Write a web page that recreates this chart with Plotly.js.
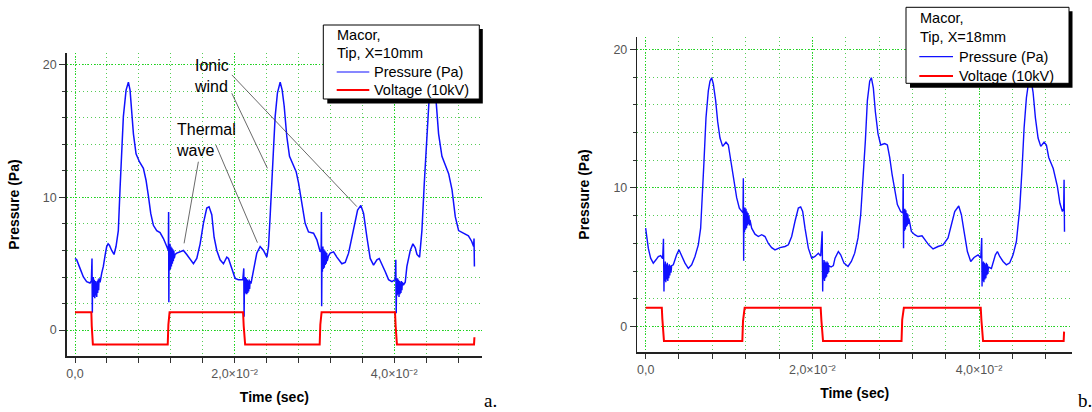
<!DOCTYPE html>
<html>
<head>
<meta charset="utf-8">
<script src="https://cdn.plot.ly/plotly-3.0.1.min.js"></script>
<style>html,body{margin:0;padding:0;background:#fff;}#chart{width:1092px;height:412px;}</style>
</head>
<body>
<div id="chart"></div>
<script>
// ---------- Panel a: Macor, Tip, X=10mm ----------
const timeA = [0,0.00021,0.00063,0.00105,0.00146,0.00188,0.00205,0.00213,0.00217,0.0022,
0.00225,0.0023,0.00236,0.00242,0.00248,0.00254,0.0026,0.00266,0.00272,0.00278,0.00284,0.0029,0.00296,0.00302,
0.00314,0.00335,0.00355,0.00376,0.00397,0.00415,0.00431,0.0046,0.00489,0.00514,0.00543,0.00564,0.00585,0.00606,
0.0064,0.00669,0.0069,0.00711,0.00732,0.00765,0.00807,0.00857,0.0089,0.0092,0.00949,0.00982,0.01024,0.01066,
0.01108,0.0115,0.0117,0.01173,0.01176,0.01179,
0.01185,0.0119,0.01196,0.01202,0.01208,0.01214,0.0122,0.01226,0.01232,0.01238,0.01244,
0.01254,0.01275,0.01317,0.01359,0.014,0.01442,0.01484,0.01526,0.01568,0.01609,0.01651,0.0168,0.01714,0.01743,
0.01777,0.01818,0.0186,0.01902,0.01923,0.01965,0.02006,0.02048,0.02103,0.02115,0.02119,0.02123,
0.02128,0.02134,0.0214,0.02146,0.02152,0.02158,0.02164,0.0217,0.02176,0.02182,0.02188,0.02194,
0.02205,0.02215,0.02236,0.02278,0.0232,0.02362,0.02404,0.02425,0.02445,0.02466,0.02487,0.02508,0.02537,0.02571,
0.02596,0.02621,0.02654,0.02688,0.02738,0.02771,0.02801,0.02843,0.02884,0.02926,0.02989,0.03031,0.03072,
0.03085,0.03088,0.03091,0.03095,
0.031,0.03106,0.03112,0.03118,0.03124,0.0313,0.03136,0.03142,0.03148,0.03154,0.0316,
0.03177,0.03198,0.0324,0.03281,0.03344,0.03386,0.03428,0.0349,0.03541,0.03582,0.03616,0.03658,0.03699,0.03741,
0.03783,0.03812,0.03846,0.03888,0.03929,0.03971,0.04013,0.0402,0.04025,0.0403,
0.04036,0.04042,0.04048,0.04054,0.0406,0.04066,0.04072,0.04078,0.04084,0.0409,0.04096,0.04102,
0.04115,0.04138,0.04159,0.04201,0.04234,0.04264,0.04285,0.04318,0.04347,0.04377,0.0441,0.04439,0.04494,0.04527,
0.04556,0.04598,0.0464,0.04682,0.04724,0.04765,0.04807,0.04849,0.04878,0.0493,0.0497,0.04995,0.05,0.05005];
const pressureA = [5.4,5.3,4.65,4.0,3.65,3.55,3.7,5.4,1.3,3.8,
2.7,4.0,2.5,3.8,2.4,3.7,2.6,3.6,2.5,3.7,2.8,3.8,3.0,3.9,
3.6,4.3,4.8,5.6,6.3,6.5,6.4,6.0,5.7,6.3,7.5,10.6,13.6,16.1,
18.1,18.7,18.1,16.4,14.8,13.3,12.7,12.2,11.3,10.1,8.8,7.9,7.5,7.35,
6.9,6.3,6.0,8.9,2.1,6.5,
4.5,6.5,4.6,6.3,4.8,6.2,5.0,6.1,5.2,6.0,5.4,
5.7,5.8,5.9,6.0,5.7,5.3,5.0,5.4,6.5,8.05,9.2,9.3,8.7,7.0,
6.0,5.3,5.0,5.5,5.4,4.65,3.9,3.8,3.8,4.65,1.0,3.6,
2.7,4.0,2.8,3.9,2.7,3.8,2.8,3.7,2.9,3.8,3.1,3.7,
3.5,3.8,4.5,5.8,6.3,6.0,5.5,6.3,8.55,11.6,13.6,16.1,17.9,18.7,
18.1,16.9,14.6,13.1,12.45,11.95,11.1,9.6,8.05,7.4,7.3,6.8,5.9,
6.0,8.9,1.8,6.0,
4.4,6.3,4.6,6.1,4.7,6.0,4.9,5.9,5.0,5.8,5.2,
5.6,5.8,5.9,5.5,5.0,5.1,5.8,7.5,9.05,9.4,8.8,7.0,5.4,4.9,
5.3,5.4,5.0,4.4,3.8,3.65,3.8,5.3,1.26,3.9,
2.6,3.9,2.7,3.8,2.5,3.7,2.7,3.6,2.8,3.7,3.0,3.6,
3.4,3.6,4.8,6.0,6.5,6.2,5.7,5.5,7.5,11.1,14.8,17.6,18.7,17.1,
14.8,13.1,12.45,11.8,10.6,8.55,7.5,7.35,7.3,7.1,6.7,6.3,6.9,4.8];
const voltTimeA = [0,0.00205,0.0021,0.00224,0.01162,0.0117,0.01185,0.02106,0.02114,0.02132,0.03066,0.03074,0.0309,0.0401,0.04018,0.04034,0.05,0.05005];
const voltageA  = [1.35,1.35,0.3,-1.1,-1.1,0.4,1.35,1.35,0.3,-1.1,-1.1,0.4,1.35,1.35,0.3,-1.1,-1.1,-0.55];

// ---------- Panel b: Macor, Tip, X=18mm ----------
const timeB = [0,0.00012,0.00032,0.0006,0.00092,0.00124,0.00152,0.0018,0.00204,0.00214,0.0022,0.00224,
0.0023,0.00236,0.00242,0.00248,0.00254,0.0026,0.00266,0.00272,0.00278,0.00284,0.0029,0.00296,0.00304,0.00312,
0.00332,0.00352,0.00372,0.004,0.00432,0.00472,0.00512,0.00552,0.00592,0.00632,0.0066,0.00684,0.007,0.00724,
0.00752,0.00772,0.00792,0.00812,0.0084,0.00864,0.00892,0.00924,0.00964,0.00992,0.01012,0.01032,0.0106,0.01092,
0.01124,0.01152,0.01168,0.01172,0.01176,0.0118,
0.01186,0.01192,0.01198,0.01204,0.0121,0.01216,0.01222,0.01228,0.01234,0.0124,0.01246,0.01252,
0.01272,0.01312,0.01352,0.01392,0.01432,0.01472,0.01512,0.01552,0.01612,0.01672,0.01712,0.01752,0.01792,0.01832,
0.0186,0.01884,0.01912,0.01952,0.01992,0.02032,0.02072,0.021,0.02118,0.02124,0.02128,
0.02134,0.0214,0.02146,0.02152,0.02158,0.02164,0.0217,0.02176,0.02182,0.02188,0.02194,0.022,
0.02225,0.02252,0.02272,0.02312,0.0234,0.0238,0.02428,0.02468,0.02508,0.02548,0.0258,0.02608,0.02636,0.0266,
0.02688,0.02708,0.02732,0.02756,0.02788,0.0282,0.02868,0.029,0.02928,0.02956,0.02988,0.0302,0.0306,
0.03086,0.0309,0.03094,0.03098,
0.03104,0.0311,0.03116,0.03122,0.03128,0.03134,0.0314,0.03146,0.03152,0.03158,
0.03168,0.03188,0.03228,0.03268,0.03316,0.03356,0.03396,0.03448,0.03508,0.03568,0.03628,0.03668,0.03708,0.03756,
0.03788,0.0382,0.0386,0.039,0.0394,0.03988,0.0402,0.04032,0.04036,0.0404,
0.04046,0.04052,0.04058,0.04064,0.0407,0.04076,0.04082,0.04088,0.04094,0.041,0.04106,0.04112,
0.04148,0.04168,0.04196,0.0422,0.04248,0.04288,0.04328,0.04368,0.04408,0.04448,0.04488,0.04516,0.0454,0.04568,
0.04596,0.0462,0.04648,0.04676,0.04708,0.0474,0.0478,0.04808,0.04836,0.0489,0.0494,0.0497,0.05,0.05015,0.0502,0.05025];
const pressureB = [7.1,6.6,5.66,4.94,4.58,4.82,5.06,5.13,4.9,6.34,2.53,4.5,
3.3,4.7,3.2,4.5,3.4,4.6,3.3,4.4,3.5,4.5,3.7,4.4,3.9,4.4,
4.46,4.9,5.18,5.54,5.06,4.58,4.2,4.46,5.06,5.9,7.1,9.5,11.9,15.06,
17.0,17.7,17.95,17.5,16.3,14.8,13.6,13.0,13.3,13.1,12.4,11.7,10.5,9.3,
8.55,8.3,8.2,10.7,4.75,8.6,
6.8,8.6,7.0,8.5,7.1,8.3,7.3,8.2,7.4,8.0,7.3,7.7,
7.1,6.67,6.5,6.63,6.5,6.0,5.7,5.54,5.7,5.78,5.9,6.5,7.6,8.55,
8.63,8.3,7.1,5.66,4.94,5.06,5.3,5.1,6.87,2.53,4.6,
3.4,4.8,3.3,4.7,3.5,4.6,3.6,4.7,3.8,4.6,3.9,4.4,
4.3,4.4,4.94,5.42,5.18,4.58,4.34,4.7,5.3,6.4,8.07,10.5,13.4,16.3,
17.7,17.95,17.2,15.5,13.9,13.1,13.2,13.1,12.2,11.0,9.76,8.8,8.3,
8.2,11.0,5.66,8.5,
6.9,8.5,7.0,8.4,7.2,8.2,7.3,8.1,7.4,7.8,
7.5,6.87,6.63,6.5,6.55,6.2,5.9,5.6,5.78,5.9,6.4,7.35,8.3,8.7,
8.07,6.87,5.42,4.7,4.99,5.18,4.95,6.39,2.9,4.6,
3.3,4.7,3.2,4.6,3.4,4.5,3.5,4.6,3.7,4.5,3.8,4.3,
4.2,4.7,5.18,5.42,5.06,4.7,4.46,4.6,5.18,6.14,8.55,11.4,14.3,16.5,
17.7,17.95,16.9,15.06,13.6,13.0,13.3,13.1,12.2,11.4,10.1,8.9,8.3,8.5,10.6,6.85];
const voltTimeB = [0,0.00194,0.002,0.0022,0.0116,0.01168,0.01188,0.021,0.02108,0.02128,0.0307,0.03078,0.03098,0.0402,0.04028,0.04048,0.05015,0.0502];
const voltageB  = [1.37,1.37,0.6,-1.04,-1.04,0.4,1.37,1.37,0.5,-1.04,-1.04,0.5,1.37,1.37,0.5,-1.04,-1.04,-0.36];

// ---------- tick labels & legend texts ----------
const xTickVals = [0, 0.02, 0.04];
const xTickText = ['0,0', '2,0\u00d710\u207b\u00b2', '4,0\u00d710\u207b\u00b2'];
const yTickVals = [0, 10, 20];
const yTickText = ['0', '10', '20'];
const seriesNames = ['Pressure (Pa)', 'Voltage (10kV)'];
const legendTitles = ['Macor,', 'Tip, X=10mm', 'Macor,', 'Tip, X=18mm'];

const W = 1092, H = 412;
const px = v => v / W;
const py = v => 1 - v / H;
const FONT = 'Arial, "Liberation Sans", sans-serif';
const BLUE = '#1010ff', RED = '#ff0000';

const traces = [
  {x: timeA, y: pressureA, type: 'scatter', mode: 'lines', name: seriesNames[0],
   line: {color: BLUE, width: 1.5}, xaxis: 'x', yaxis: 'y'},
  {x: voltTimeA, y: voltageA, type: 'scatter', mode: 'lines', name: seriesNames[1],
   line: {color: RED, width: 2}, xaxis: 'x', yaxis: 'y'},
  {x: timeB, y: pressureB, type: 'scatter', mode: 'lines', name: seriesNames[0],
   line: {color: BLUE, width: 1.4}, xaxis: 'x2', yaxis: 'y2'},
  {x: voltTimeB, y: voltageB, type: 'scatter', mode: 'lines', name: seriesNames[1],
   line: {color: RED, width: 2}, xaxis: 'x2', yaxis: 'y2'}
];

const MAJ_GRID = {showgrid: true, gridcolor: '#19d819', griddash: '1px,2px', gridwidth: 1};
const MIN_GRID = {showgrid: true, gridcolor: '#55cc55', griddash: '1px,3px', gridwidth: 1};

function xAxis(domain, range) {
  return Object.assign({
    domain: domain, range: range, tickmode: 'array', tickvals: xTickVals, ticktext: xTickText,
    ticks: 'outside', ticklen: 5, tickwidth: 1, tickcolor: '#333',
    showline: true, linecolor: '#222', linewidth: 1.5, zeroline: false,
    minor: Object.assign({dtick: 0.004, tick0: 0, ticks: 'outside', ticklen: 5, tickcolor: '#333', tickwidth: 1}, MIN_GRID),
    tickfont: {family: FONT, size: 12.5, color: '#555'},
    title: {text: '<b>Time (sec)</b>', font: {family: FONT, size: 14, color: '#000'}, standoff: 12}
  }, MAJ_GRID);
}
function yAxis(domain, range) {
  return Object.assign({
    domain: domain, range: range, tickmode: 'array', tickvals: yTickVals, ticktext: yTickText,
    ticks: 'outside', ticklen: 6, tickwidth: 1, tickcolor: '#333',
    showline: true, linecolor: '#222', linewidth: 1.5, zeroline: false,
    minor: Object.assign({dtick: 2, tick0: 0, ticks: 'outside', ticklen: 3, tickcolor: '#333', tickwidth: 1}, MIN_GRID),
    tickfont: {family: FONT, size: 12.5, color: '#555'},
    title: {text: '<b>Pressure (Pa)</b>', font: {family: FONT, size: 14, color: '#000'}, standoff: 20}
  }, MAJ_GRID);
}

// legend drawn as a framed box with a drop shadow (like the original Origin plot)
function legendShapes(x0, y0, x1, y1, lineX0, lineX1, yP, yV) {
  return [
    {type: 'rect', xref: 'paper', yref: 'paper', layer: 'above',
     x0: px(x0 + 4), x1: px(x1 + 3.5), y0: py(y0 + 4), y1: py(y1 + 4.5),
     fillcolor: '#000', line: {width: 0}},
    {type: 'rect', xref: 'paper', yref: 'paper', layer: 'above',
     x0: px(x0), x1: px(x1), y0: py(y0), y1: py(y1),
     fillcolor: '#fff', line: {color: '#000', width: 1}},
    {type: 'line', xref: 'paper', yref: 'paper', layer: 'above',
     x0: px(lineX0), x1: px(lineX1), y0: py(yP), y1: py(yP), line: {color: BLUE, width: 1.2}},
    {type: 'line', xref: 'paper', yref: 'paper', layer: 'above',
     x0: px(lineX0), x1: px(lineX1), y0: py(yV), y1: py(yV), line: {color: RED, width: 2}}
  ];
}
function legendTexts(t1, t2, xTitle, y1, y2, xItem, yP, yV) {
  const f = {family: FONT, size: 14.5, color: '#000'};
  const base = {xref: 'paper', yref: 'paper', xanchor: 'left', yanchor: 'middle', showarrow: false, font: f, borderpad: 0};
  return [
    Object.assign({text: t1, x: px(xTitle), y: py(y1)}, base),
    Object.assign({text: t2, x: px(xTitle), y: py(y2)}, base),
    Object.assign({text: seriesNames[0], x: px(xItem), y: py(yP)}, base),
    Object.assign({text: seriesNames[1], x: px(xItem), y: py(yV)}, base)
  ];
}

// pointer lines of the "Ionic wind" / "Thermal wave" labels, anchored on the curve (pixel offsets)
const pointer = (x, y, dx, dy) => ({
  type: 'line', xref: 'x', yref: 'y', layer: 'above', xsizemode: 'pixel', ysizemode: 'pixel',
  xanchor: x, yanchor: y, x0: 0, y0: 0, x1: dx, y1: dy, line: {color: '#444', width: 0.8}
});

const layout = {
  width: W, height: H, margin: {l: 0, r: 0, t: 0, b: 0},
  paper_bgcolor: '#fff', plot_bgcolor: '#fff', showlegend: false,
  font: {family: FONT},
  xaxis: Object.assign(xAxis([px(66.7), px(482)], [-0.00104, 0.0510]), {anchor: 'y'}),
  yaxis: Object.assign(yAxis([py(356), py(53)], [-1.96, 20.9]), {anchor: 'x'}),
  xaxis2: Object.assign(xAxis([px(637.3), px(1072)], [-0.001, 0.05115]), {anchor: 'y2'}),
  yaxis2: Object.assign(yAxis([py(352.3), py(36.7)], [-1.85, 20.91]), {anchor: 'x2'}),
  shapes: [].concat(
    legendShapes(323.3, 25, 479.3, 99, 336.7, 369.3, 72, 90),
    legendShapes(906, 7.3, 1069, 83.3, 919.3, 953, 56.7, 76),
    [pointer(0.03532, 9.31, -125, 131.7),
     pointer(0.02411, 12.2, -35.6, 75),
     pointer(0.01367, 6.54, 14.3, 81.6),
     pointer(0.02286, 6.59, -41.6, 97.7)]),
  annotations: [].concat(
    legendTexts(legendTitles[0], legendTitles[1], 336.2, 35, 53.3, 372.8, 72, 90),
    legendTexts(legendTitles[2], legendTitles[3], 918.8, 18.3, 37.3, 957.5, 56.7, 76),
    [
    {text: 'Ionic<br>wind', xref: 'paper', yref: 'paper', x: px(192.5), y: py(76.3),
     xanchor: 'left', yanchor: 'middle', align: 'left', showarrow: false, borderpad: 0,
     font: {family: FONT, size: 16, color: '#000'}},
    {text: 'Thermal<br>wave', xref: 'paper', yref: 'paper', x: px(174.5), y: py(139.7),
     xanchor: 'left', yanchor: 'middle', align: 'left', showarrow: false, borderpad: 0,
     font: {family: FONT, size: 16, color: '#000'}},
    {text: 'a.', xref: 'paper', yref: 'paper', x: px(490), y: py(400), xanchor: 'center', yanchor: 'middle',
     showarrow: false, font: {family: '"Times New Roman", "Liberation Serif", serif', size: 19, color: '#000'}},
    {text: 'b.', xref: 'paper', yref: 'paper', x: px(1085), y: py(400), xanchor: 'center', yanchor: 'middle',
     showarrow: false, font: {family: '"Times New Roman", "Liberation Serif", serif', size: 19, color: '#000'}}
    ])
};

Plotly.newPlot('chart', traces, layout, {staticPlot: true, displayModeBar: false});
</script>
</body>
</html>
